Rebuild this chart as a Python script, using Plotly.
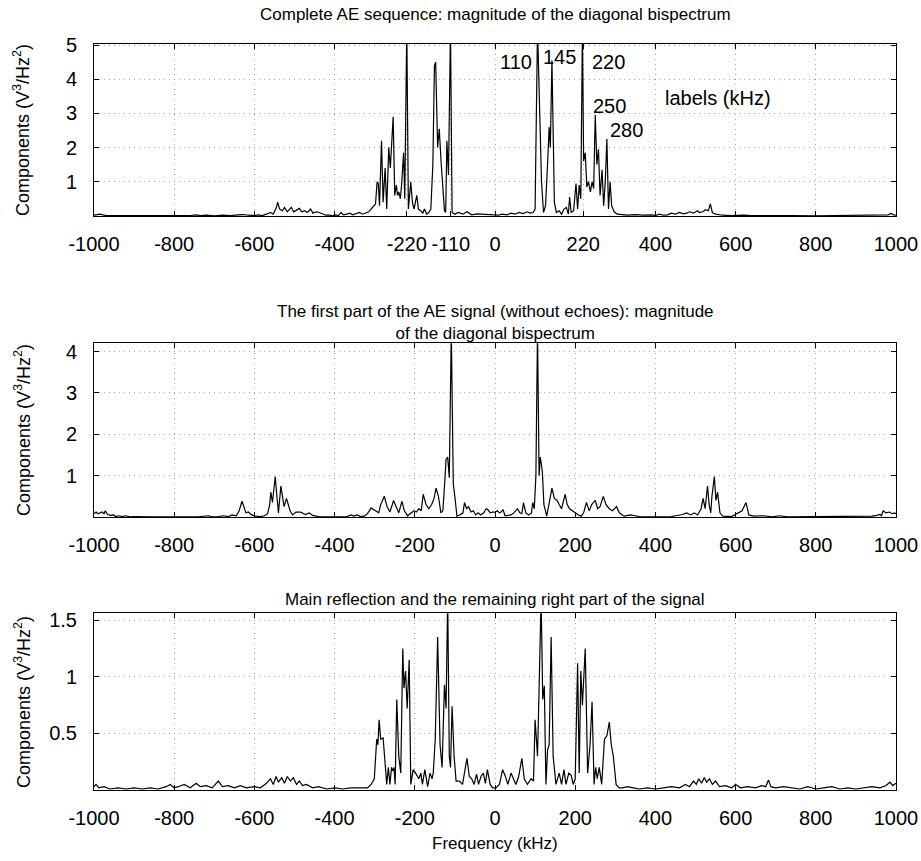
import plotly.graph_objects as go

# ---------------- data ----------------
# Panel 1: complete AE sequence
freq1 = [-1000, -993, -985, -978, -970, -950, -900, -850, -800, -760, -745, -735, -720, -700, -680, -660,
         -640, -628, -615, -600, -590, -580, -570, -560, -553, -545, -542, -537, -530, -525, -518, -512,
         -508, -502, -495, -488, -482, -475, -468, -460, -454, -446, -438, -430, -422, -413, -405, -398,
         -390, -384, -378, -370, -362, -355, -346, -338, -330, -322, -315, -309, -303, -298, -294, -291,
         -288, -283, -279, -274, -270, -265, -261, -254, -250, -246, -243, -240, -236, -233, -228, -225,
         -220, -216, -210, -206, -202, -195, -191, -185, -180, -176, -170, -165, -160, -155, -151, -148,
         -143, -139, -134, -129, -126, -123, -120, -116, -111, -107, -100, -92, -80, -70, -58, -45,
         -30, -15, -5,
         0, 8, 18, 30, 40, 50, 60, 70, 80, 88, 95, 100, 106, 112, 116, 121,
         126, 131, 135, 138, 142, 148, 153, 160, 166, 172, 178, 183, 186, 190, 196, 202,
         206, 210, 214, 218, 221, 225, 229, 233, 238, 242, 246, 250, 254, 258, 262, 267,
         271, 275, 279, 283, 287, 291, 297, 305, 315, 330, 350, 370, 392, 400, 410, 420,
         430, 440, 450, 460, 470, 478, 485, 495, 505, 510, 518, 525, 532, 537, 542, 550,
         567, 590, 620, 640, 700, 725, 740, 800, 840, 880, 920, 960, 980, 988, 994, 1000]
mag1 = [0.02, 0.03, 0.05, 0.03, 0.01, 0.01, 0.005, 0.005, 0.005, 0.01, 0.03, 0.01, 0.02, 0.005, 0.02, 0.01,
        0.03, 0.04, 0.02, 0.01, 0.03, 0.01, 0.05, 0.1, 0.05, 0.25, 0.4, 0.2, 0.15, 0.25, 0.12, 0.2,
        0.25, 0.12, 0.18, 0.22, 0.12, 0.15, 0.1, 0.2, 0.08, 0.12, 0.1, 0.05, 0.02, 0.02, 0.0, 0.03,
        0.01, 0.1, 0.03, 0.05, 0.08, 0.03, 0.06, 0.1, 0.05, 0.08, 0.12, 0.2, 0.3, 0.35, 1.0, 0.95,
        0.3, 2.2, 0.4, 1.4, 0.2, 2.0, 1.4, 2.9, 0.6, 0.9, 0.6, 0.7, 0.5, 0.9, 1.85, 0.5,
        5.5, 0.2, 1.0, 0.4, 0.2, 0.6, 0.2, 0.15, 0.08, 0.2, 0.05, 0.1, 0.2, 1.5, 4.4, 4.5,
        2.0, 2.55, 1.5, 0.5, 0.15, 0.1, 2.2, 1.2, 5.5, 0.1, 0.05, 0.1, 0.05, 0.12, 0.03, 0.06,
        0.05, 0.04, 0.02,
        0.01, 0.02, 0.05, 0.03, 0.08, 0.05, 0.1, 0.07, 0.12, 0.08, 0.1, 0.2, 5.5, 2.2, 1.0, 0.1,
        0.3, 1.5, 2.6, 2.0, 4.55, 0.4, 0.1, 0.15, 0.05, 0.2, 0.25, 0.05, 0.55, 0.1, 0.15, 0.95,
        0.2, 0.9, 0.5, 5.5, 1.6, 1.85, 0.85, 1.0, 0.7, 1.0, 0.8, 2.95, 1.5, 1.95, 0.6, 1.35,
        0.3, 1.0, 2.25, 0.2, 1.0, 0.3, 0.12, 0.05, 0.03, 0.02, 0.04, 0.02, 0.03, 0.01, 0.05, 0.02,
        0.03, 0.08, 0.05, 0.1, 0.06, 0.08, 0.12, 0.08, 0.15, 0.1, 0.12, 0.18, 0.15, 0.35, 0.1, 0.05,
        0.02, 0.01, 0.02, 0.01, 0.01, 0.02, 0.01, 0.005, 0.01, 0.005, 0.01, 0.01, 0.03, 0.07, 0.03, 0.02]

# Panel 2: first part of the AE signal (without echoes)
freq2 = [-1000, -995, -990, -985, -980, -975, -972, -966, -958, -952, -945, -938, -930, -922, -910, -900,
         -880, -850, -800, -760, -740, -715, -705, -690, -677, -665, -655, -645, -638, -631, -626, -621,
         -615, -607, -598, -585, -575, -567, -562, -559, -555, -548, -544, -540, -534, -530, -526, -520,
         -515, -511, -505, -496, -485, -473, -463, -455, -440, -420, -400, -385, -370, -359, -352, -344,
         -336, -326, -318, -309, -298, -290, -285, -276, -269, -262, -253, -247, -240, -232, -226, -218,
         -210, -202, -196, -190, -184, -179, -172, -165, -158, -152, -147, -141, -135, -130, -125, -122,
         -118, -114, -109, -104, -99, -95, -88, -80, -76, -71, -66, -60, -54, -48, -42, -36,
         -28, -22, -18, -12, -6, 0, 6, 11, 15, 20, 25, 32, 40, 47, 56, 62,
         67, 71, 77, 84, 91, 94, 98, 102, 106, 110, 113, 118, 122, 129, 135, 142,
         148, 155, 160, 166, 175, 180, 186, 193, 200, 208, 215, 221, 228, 235, 241, 250,
         256, 262, 270, 277, 285, 293, 303, 310, 322, 338, 350, 360, 400, 440, 451, 468,
         478, 488, 497, 505, 514, 519, 524, 530, 534, 538, 541, 547, 551, 555, 561, 568,
         590, 605, 616, 626, 633, 645, 670, 690, 709, 730, 800, 880, 940, 952, 960, 964,
         968, 975, 983, 991, 996, 1000]
mag2 = [0.08, 0.12, 0.08, 0.1, 0.12, 0.08, 0.15, 0.06, 0.04, 0.05, 0.01, 0.03, 0.01, 0.03, 0.005, 0.01,
        0.005, 0.005, 0.005, 0.01, 0.005, 0.03, 0.005, 0.01, 0.03, 0.01, 0.05, 0.03, 0.15, 0.38, 0.25, 0.1,
        0.12, 0.05, 0.02, 0.01, 0.03, 0.08, 0.3, 0.6, 0.35, 0.98, 0.5, 0.1, 0.75, 0.5, 0.25, 0.45,
        0.25, 0.15, 0.05, 0.12, 0.12, 0.06, 0.1, 0.04, 0.01, 0.005, 0.005, 0.01, 0.005, 0.05, 0.02, 0.05,
        0.01, 0.02, 0.08, 0.22, 0.15, 0.1, 0.3, 0.5, 0.25, 0.12, 0.4, 0.25, 0.1, 0.38, 0.15, 0.03,
        0.1, 0.15, 0.12, 0.2, 0.15, 0.55, 0.3, 0.2, 0.3, 0.45, 0.7, 0.5, 0.1, 0.15, 0.9, 1.4,
        1.45, 0.95, 4.5, 0.8, 0.4, 0.02, 0.05, 0.1, 0.35, 0.2, 0.25, 0.12, 0.15, 0.05, 0.1, 0.05,
        0.1, 0.2, 0.18, 0.1, 0.12, 0.12, 0.15, 0.1, 0.12, 0.18, 0.03, 0.04, 0.05, 0.1, 0.2, 0.1,
        0.08, 0.35, 0.1, 0.05, 0.1, 0.35, 0.2, 1.0, 4.5, 1.0, 1.45, 1.1, 0.3, 0.02, 0.3, 0.7,
        0.45, 0.4, 0.3, 0.2, 0.55, 0.3, 0.2, 0.15, 0.1, 0.05, 0.02, 0.1, 0.35, 0.15, 0.3, 0.4,
        0.2, 0.25, 0.5, 0.3, 0.2, 0.15, 0.25, 0.1, 0.02, 0.05, 0.03, 0.01, 0.005, 0.01, 0.03, 0.06,
        0.1, 0.05, 0.1, 0.05, 0.2, 0.45, 0.2, 0.75, 0.3, 0.1, 0.5, 0.98, 0.4, 0.6, 0.1, 0.02,
        0.01, 0.08, 0.15, 0.35, 0.05, 0.02, 0.03, 0.005, 0.03, 0.005, 0.005, 0.01, 0.02, 0.04, 0.06, 0.03,
        0.15, 0.1, 0.12, 0.08, 0.1, 0.08]

# Panel 3: main reflection and remaining right part
freq3 = [-1000, -995, -988, -975, -960, -940, -920, -900, -880, -860, -840, -820, -810, -800, -790, -775,
         -760, -745, -735, -720, -705, -690, -680, -665, -650, -635, -620, -600, -585, -570, -560, -553,
         -546, -540, -532, -525, -518, -510, -503, -495, -488, -480, -470, -455, -440, -420, -400, -380,
         -360, -338, -318, -309, -301, -295, -292, -289, -285, -279, -274, -270, -266, -262, -258, -255,
         -252, -249, -245, -240, -235, -230, -227, -223, -219, -214, -210, -204, -198, -190, -185, -181,
         -175, -168, -162, -157, -154, -149, -143, -137, -132, -126, -122, -118, -114, -111, -107, -102,
         -97, -89, -81, -70, -64, -58, -52, -46, -41, -35, -29, -24, -19, -12, -6, 2,
         11, 19, 26, 32, 40, 46, 52, 59, 67, 73, 81, 90, 96, 100, 106, 110,
         115, 119, 123, 127, 131, 135, 140, 145, 152, 160, 166, 172, 177, 184, 190, 195,
         200, 206, 210, 214, 218, 225, 231, 237, 242, 247, 251, 255, 260, 266, 273, 279,
         285, 290, 295, 302, 310, 318, 330, 345, 360, 380, 400, 420, 440, 460, 475, 485,
         495, 502, 508, 515, 522, 528, 535, 542, 550, 560, 575, 590, 600, 612, 630, 650,
         665, 675, 682, 688, 700, 720, 740, 760, 780, 800, 820, 840, 860, 880, 900, 920,
         940, 960, 975, 985, 992, 1000]
mag3 = [0.03, 0.05, 0.02, 0.03, 0.01, 0.02, 0.01, 0.02, 0.01, 0.02, 0.01, 0.03, 0.05, 0.02, 0.03, 0.05,
        0.02, 0.06, 0.03, 0.04, 0.02, 0.08, 0.03, 0.04, 0.02, 0.04, 0.02, 0.03, 0.02, 0.06, 0.1, 0.05,
        0.12, 0.07, 0.11, 0.06, 0.12, 0.08, 0.11, 0.05, 0.08, 0.04, 0.05, 0.02, 0.03, 0.01, 0.02, 0.01,
        0.02, 0.02, 0.02, 0.05, 0.1, 0.45, 0.4, 0.62, 0.45, 0.46, 0.2, 0.05, 0.2, 0.05, 0.2, 0.17,
        0.2, 0.05, 0.8, 0.3, 0.15, 1.25, 0.9, 1.05, 0.72, 1.15, 0.05, 0.18, 0.15, 0.1, 0.15, 0.05,
        0.18, 0.03, 0.15, 0.1, 0.15, 0.45, 1.35, 0.4, 0.2, 0.93, 0.72, 1.7, 0.3, 0.2, 0.74, 0.3,
        0.08, 0.08, 0.05, 0.28, 0.12, 0.1, 0.05, 0.14, 0.05, 0.12, 0.15, 0.06, 0.18, 0.05, 0.02, 0.02,
        0.05, 0.18, 0.12, 0.05, 0.15, 0.1, 0.05, 0.12, 0.28, 0.1, 0.05, 0.1, 0.08, 0.62, 0.3, 0.9,
        1.7, 0.8, 0.92, 0.05, 0.35, 0.4, 1.35, 0.3, 0.05, 0.15, 0.05, 0.18, 0.05, 0.15, 0.13, 0.05,
        0.1, 1.12, 0.15, 1.05, 0.75, 1.25, 0.15, 0.4, 0.78, 0.05, 0.2, 0.1, 0.2, 0.05, 0.45, 0.48,
        0.6, 0.4, 0.3, 0.05, 0.02, 0.02, 0.03, 0.02, 0.01, 0.02, 0.01, 0.02, 0.03, 0.02, 0.05, 0.03,
        0.08, 0.05, 0.1, 0.06, 0.11, 0.07, 0.1, 0.05, 0.08, 0.03, 0.04, 0.02, 0.05, 0.02, 0.03, 0.02,
        0.04, 0.03, 0.09, 0.03, 0.02, 0.03, 0.02, 0.01, 0.03, 0.01, 0.02, 0.03, 0.01, 0.02, 0.01, 0.02,
        0.03, 0.02, 0.04, 0.07, 0.04, 0.06]

x_ticks_top = [-1000, -800, -600, -400, -220, -110, 0, 220, 400, 600, 800, 1000]
x_ticks = [-1000, -800, -600, -400, -200, 0, 200, 400, 600, 800, 1000]
y_ticks1 = [1, 2, 3, 4, 5]
y_ticks2 = [1, 2, 3, 4]
y_ticks3 = [0.5, 1, 1.5]
y_ticktext3 = ["0.5", "1", "1.5"]

titles = ["Complete AE sequence: magnitude of the diagonal bispectrum",
          "The first part of the AE signal (without echoes): magnitude<br>of the diagonal bispectrum",
          "Main reflection and the remaining right part of the signal"]
peak_labels = ["110", "145", "220", "250", "280", "labels (kHz)"]
peak_label_x = [52, 160, 283, 285, 327, 555]
peak_label_y = [4.51, 4.66, 4.51, 3.22, 2.51, 3.45]

# ---------------- figure ----------------
W, H = 921, 861
FONT = "Liberation Sans, Arial, Helvetica, sans-serif"

def px_x(p):
    return p / W

def px_y(p):
    return 1 - p / H

x_dom = [px_x(94), px_x(896)]
y_doms = [[px_y(215.9), px_y(44)], [px_y(517), px_y(343.3)], [px_y(790.1), px_y(613.3)]]
y_ranges = [[0, 5.03], [0, 4.2], [0, 1.56]]

fig = go.Figure()
for i, (f, m) in enumerate([(freq1, mag1), (freq2, mag2), (freq3, mag3)]):
    sfx = "" if i == 0 else str(i + 1)
    fig.add_trace(go.Scatter(x=f, y=m, mode="lines",
                             line=dict(color="black", width=1.2),
                             xaxis="x" + sfx, yaxis="y" + sfx,
                             showlegend=False, hoverinfo="skip"))

axis_common = dict(showline=True, linecolor="black", linewidth=1, mirror="ticks",
                   ticks="inside", ticklen=5, tickcolor="black", tickwidth=1,
                   showgrid=True, gridcolor="#a8a8a8", griddash="1px,4px", gridwidth=1,
                   zeroline=False, automargin=False,
                   tickfont=dict(family=FONT, size=20, color="black"))

layout = dict(width=W, height=H, margin=dict(l=0, r=0, t=0, b=0, autoexpand=False),
              paper_bgcolor="white", plot_bgcolor="white",
              font=dict(family=FONT, color="black"))

yt = [(y_ticks1, [str(v) for v in y_ticks1]), (y_ticks2, [str(v) for v in y_ticks2]),
      (y_ticks3, y_ticktext3)]
for i in range(3):
    sfx = "" if i == 0 else str(i + 1)
    xt = x_ticks_top if i == 0 else x_ticks
    layout["xaxis" + sfx] = dict(axis_common, domain=x_dom, range=[-1000, 1000],
                                 tickvals=xt, ticktext=[str(v) for v in xt],
                                 anchor="y" + sfx, ticklabelstandoff=10)
    layout["yaxis" + sfx] = dict(axis_common, domain=y_doms[i], range=y_ranges[i],
                                 tickvals=yt[i][0], ticktext=yt[i][1],
                                 anchor="x" + sfx, ticklabelstandoff=12)

fig.update_layout(**layout)

ann = []
title_y = [15, 322, 599]
for t, ty in zip(titles, title_y):
    ann.append(dict(text=t, x=px_x(495), y=px_y(ty), xref="paper", yref="paper",
                    showarrow=False, xanchor="center", yanchor="middle",
                    font=dict(family=FONT, size=17, color="black")))
ylab_y = [130, 430, 702]
for ly in ylab_y:
    ann.append(dict(text="Components (V<sup>3</sup>/Hz<sup>2</sup>)", x=px_x(22), y=px_y(ly),
                    xref="paper", yref="paper", showarrow=False, textangle=-90,
                    xanchor="center", yanchor="middle",
                    font=dict(family=FONT, size=18, color="black")))
ann.append(dict(text="Frequency (kHz)", x=px_x(495), y=px_y(843), xref="paper", yref="paper",
                showarrow=False, xanchor="center", yanchor="middle",
                font=dict(family=FONT, size=17, color="black")))
for lab, lx, ly in zip(peak_labels, peak_label_x, peak_label_y):
    ann.append(dict(text=lab, x=lx, y=ly, xref="x", yref="y", showarrow=False,
                    xanchor="center", yanchor="middle",
                    font=dict(family=FONT, size=20, color="black")))
fig.update_layout(annotations=ann)

# the page body would otherwise add an 8 px margin around the fixed-size figure
fig.write_html("out.html", config={"displayModeBar": False},
               post_script="document.body.style.margin='0px';")
